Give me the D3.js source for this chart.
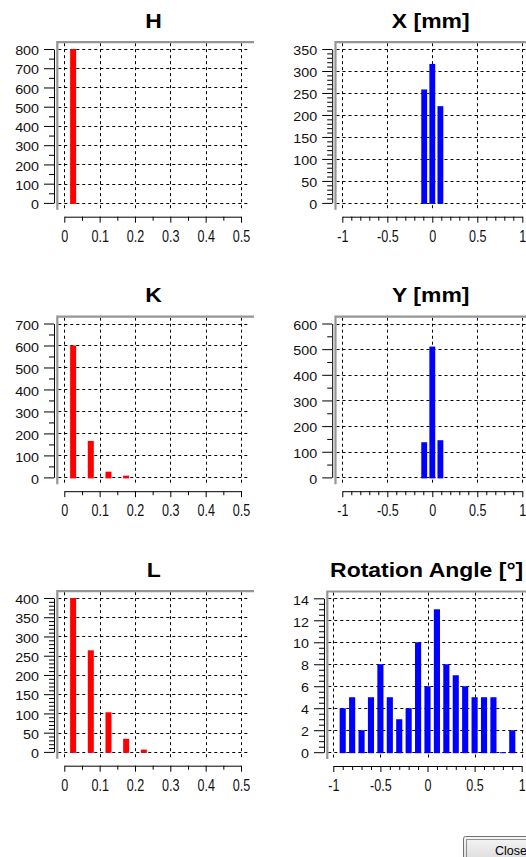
<!DOCTYPE html>
<html>
<head>
<meta charset="utf-8">
<script src="https://cdn.jsdelivr.net/npm/d3@7/dist/d3.min.js"></script>
<style>
  html, body { margin: 0; padding: 0; background: #fff; }
  svg { display: block; font-family: "Liberation Sans", Arial, sans-serif; }
</style>
</head>
<body>
<svg id="chart" width="526" height="857"></svg>
<script>
// ---- histogram data ----
const hBins = [0.025];
const hCounts = [800];

const kBins = [0.025, 0.075, 0.125, 0.175];
const kCounts = [600, 166, 26, 8];

const lBins = [0.025, 0.075, 0.125, 0.175, 0.225];
const lCounts = [400, 264, 103, 34, 6];

const xBins = [-0.09, 0, 0.09];
const xCounts = [258, 316, 220];

const yBins = [-0.09, 0, 0.09];
const yCounts = [137, 510, 145];

const rotBins = [-0.9, -0.8, -0.7, -0.6, -0.5, -0.4, -0.3, -0.2, -0.1, 0,
                 0.1, 0.2, 0.3, 0.4, 0.5, 0.6, 0.7, 0.8, 0.9];
const rotCounts = [4, 5, 2, 5, 8, 5, 3, 4, 10, 6, 13, 8, 7, 6, 5, 5, 5, 0, 2];

// ---- tick labels ----
const shapeXTicks = [0, 0.1, 0.2, 0.3, 0.4, 0.5];
const shapeXLabels = ["0", "0.1", "0.2", "0.3", "0.4", "0.5"];
const offsetXTicks = [-1, -0.5, 0, 0.5, 1];
const offsetXLabels = ["-1", "-0.5", "0", "0.5", "1"];

const hYTicks = [0, 100, 200, 300, 400, 500, 600, 700, 800];
const kYTicks = [0, 100, 200, 300, 400, 500, 600, 700];
const lYTicks = [0, 50, 100, 150, 200, 250, 300, 350, 400];
const xYTicks = [0, 50, 100, 150, 200, 250, 300, 350];
const yYTicks = [0, 100, 200, 300, 400, 500, 600];
const rotYTicks = [0, 2, 4, 6, 8, 10, 12, 14];

const svg = d3.select("#chart");
const FONT = "'Liberation Sans', Arial, sans-serif";

// gradient for the button
const defs = svg.append("defs");
const grad = defs.append("linearGradient").attr("id", "btnGrad")
  .attr("x1", 0).attr("y1", 0).attr("x2", 0).attr("y2", 1);
grad.append("stop").attr("offset", "0%").attr("stop-color", "#f6f6f6");
grad.append("stop").attr("offset", "100%").attr("stop-color", "#dadada");

function minorValues(lo, hi, step, majors) {
  const out = [];
  const n = Math.round((hi - lo) / step);
  for (let i = 0; i <= n; i++) {
    const v = +(lo + i * step).toFixed(6);
    if (!majors.some(m => Math.abs(m - v) < 1e-9)) out.push(v);
  }
  return out;
}

function drawPanel(p) {
  const g = svg.append("g");
  const frameBottom = p.top + 167.5;
  const yZero = p.top + 160.7;
  const yTopV = p.top + 6.8;
  const yMax = p.yTicks[p.yTicks.length - 1];

  const x = d3.scaleLinear().domain(p.xDomain).range([p.left + p.xPad, p.xEnd]);
  const y = d3.scaleLinear().domain([0, yMax]).range([yZero, yTopV]);

  // dashed grid
  const grid = g.append("g").attr("stroke", "#000").attr("stroke-width", 1)
    .attr("stroke-dasharray", "3,3").attr("fill", "none");
  grid.selectAll("line.h").data(p.yTicks).join("line")
    .attr("x1", p.left + 1).attr("x2", p.right)
    .attr("y1", d => Math.round(y(d)) + 0.5).attr("y2", d => Math.round(y(d)) + 0.5);
  grid.selectAll("line.v").data(p.xTicks).join("line")
    .attr("x1", d => Math.round(x(d)) + 0.5).attr("x2", d => Math.round(x(d)) + 0.5)
    .attr("y1", p.top + 1).attr("y2", frameBottom - 1);

  // bars
  g.append("g").selectAll("rect").data(p.bins.map((b, i) => ({ b, c: p.counts[i] })))
    .join("rect")
    .attr("x", d => x(d.b - p.barW / 2))
    .attr("width", d => x(d.b + p.barW / 2) - x(d.b - p.barW / 2))
    .attr("y", d => y(d.c))
    .attr("height", d => yZero - y(d.c) + 1)
    .attr("fill", p.color);

  // frame (top and left edges)
  g.append("path")
    .attr("d", `M${p.left},${frameBottom} V${p.top} H${p.right + 4}`)
    .attr("fill", "none").attr("stroke", "#959595").attr("stroke-width", 2.2);

  // left axis: major ticks with labels, minor ticks without
  const axisX = p.left - 3.3;
  const yAxis = g.append("g").attr("transform", `translate(${axisX},0)`)
    .call(d3.axisLeft(y).tickValues(p.yTicks).tickSize(10).tickSizeOuter(0).tickPadding(5));
  yAxis.selectAll("text")
    .attr("x", -15 / 1.1).attr("dy", "0.44em")
    .attr("transform", "scale(1.1,1)")
    .attr("font-size", 13).attr("font-family", FONT)
    .attr("fill", "#111");
  g.append("g").attr("transform", `translate(${axisX},0)`)
    .call(d3.axisLeft(y).tickValues(minorValues(0, yMax, p.yMinor, p.yTicks))
      .tickSize(5).tickFormat(""))
    .call(a => a.select(".domain").remove());

  // bottom axis
  const axisY = p.top + 174.5;
  const xAxis = g.append("g").attr("transform", `translate(0,${axisY})`)
    .call(d3.axisBottom(x).tickValues(p.xTicks).tickSize(6).tickSizeOuter(0)
      .tickFormat((d, i) => p.xLabels[i]));
  xAxis.selectAll("text")
    .attr("y", 25 / 1.42).attr("dy", 0)
    .attr("transform", "scale(1.05,1.42)")
    .attr("font-size", 12).attr("font-family", FONT)
    .attr("fill", "#111");
  g.append("g").attr("transform", `translate(0,${axisY})`)
    .call(d3.axisBottom(x).tickValues(minorValues(p.xDomain[0], p.xDomain[1], p.xMinor, p.xTicks))
      .tickSize(4).tickFormat(""))
    .call(a => a.select(".domain").remove());

  // title
  g.append("text")
    .attr("transform", `translate(${(p.left + p.titleRight) / 2},${p.top - 14.5}) scale(1.12,1)`)
    .attr("text-anchor", "middle")
    .attr("font-size", 20.5).attr("font-weight", "bold")
    .attr("font-family", FONT)
    .attr("fill", "#000")
    .text(p.title);
}

const shapeCol = { left: 57.3, right: 250, titleRight: 250, xPad: 7, xEnd: 241,
  xDomain: [0, 0.5], xTicks: shapeXTicks, xLabels: shapeXLabels, xMinor: 0.05,
  barW: 0.017, color: "#ff0000" };
const offsetCol = { left: 335.5, right: 526, titleRight: 526, xPad: 6.8, xEnd: 522.3,
  xDomain: [-1, 1], xTicks: offsetXTicks, xLabels: offsetXLabels, xMinor: 0.1,
  barW: 0.065, color: "#0000ff" };

drawPanel({ ...shapeCol, top: 42.2, title: "H", bins: hBins, counts: hCounts, yTicks: hYTicks, yMinor: 50 });
drawPanel({ ...shapeCol, top: 316.7, title: "K", bins: kBins, counts: kCounts, yTicks: kYTicks, yMinor: 50 });
drawPanel({ ...shapeCol, top: 591.2, title: "L", bins: lBins, counts: lCounts, yTicks: lYTicks, yMinor: 10 });

drawPanel({ ...offsetCol, top: 42.2, title: "X [mm]", bins: xBins, counts: xCounts, yTicks: xYTicks, yMinor: 10 });
drawPanel({ ...offsetCol, top: 316.7, title: "Y [mm]", bins: yBins, counts: yCounts, yTicks: yYTicks, yMinor: 50 });
drawPanel({ ...offsetCol, left: 327.3, xPad: 6, xEnd: 521.7, top: 591.5,
  title: "Rotation Angle [°]", bins: rotBins, counts: rotCounts, yTicks: rotYTicks, yMinor: 0.5 });

// Close button
const btn = svg.append("g");
btn.append("rect").attr("x", 463.5).attr("y", 836.5).attr("width", 72).attr("height", 26)
  .attr("rx", 2).attr("fill", "url(#btnGrad)").attr("stroke", "#707070");
btn.append("rect").attr("x", 466.5).attr("y", 839.5).attr("width", 66).attr("height", 20)
  .attr("fill", "none").attr("stroke", "#333").attr("stroke-dasharray", "1,1");
btn.append("text").attr("x", 495).attr("y", 854.5)
  .attr("font-size", 12.5).attr("font-family", FONT)
  .attr("fill", "#000").text("Close");
</script>
</body>
</html>
